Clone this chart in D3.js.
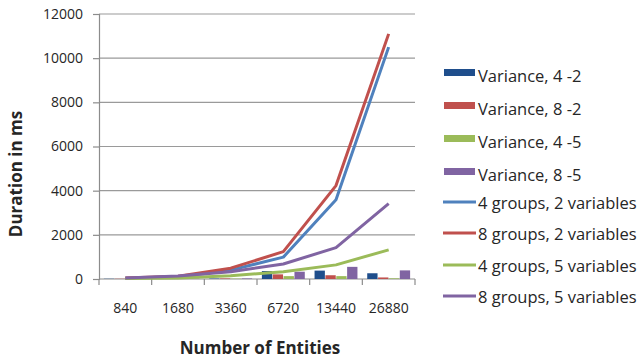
<!DOCTYPE html>
<html>
<head>
<meta charset="utf-8">
<script src="https://cdn.jsdelivr.net/npm/d3@7"></script>
<style>
  html, body { margin: 0; padding: 0; background: #fff; }
  svg { display: block; }
  text { font-family: "Open Sans", "Noto Sans", sans-serif; fill: #262626; }
</style>
</head>
<body>
<svg id="chart" width="638" height="359"></svg>
<script>
// Categories: number of entities
const categories = ["840", "1680", "3360", "6720", "13440", "26880"];

// Variance (bars), in ms
const variance42 = [10, 15, 20, 360, 380, 260];
const variance82 = [10, 15, 25, 210, 170, 70];
const variance45 = [5, 10, 15, 130, 130, 30];
const variance85 = [10, 15, 25, 330, 550, 390];

// Duration (lines), in ms
const g4v2 = [30, 100, 400, 990, 3590, 10500];
const g8v2 = [40, 130, 490, 1240, 4230, 11100];
const g4v5 = [20, 50, 150, 330, 640, 1320];
const g8v5 = [50, 140, 330, 680, 1420, 3410];

const yTicks = [0, 2000, 4000, 6000, 8000, 10000, 12000];

const barSeries = [
  { name: "Variance, 4 -2", values: variance42, color: "#1F4E8C" },
  { name: "Variance, 8 -2", values: variance82, color: "#C0504D" },
  { name: "Variance, 4 -5", values: variance45, color: "#9BBB59" },
  { name: "Variance, 8 -5", values: variance85, color: "#8064A2" }
];
const lineSeries = [
  { name: "4 groups, 2 variables", values: g4v2, color: "#4F81BD" },
  { name: "8 groups, 2 variables", values: g8v2, color: "#C0504D" },
  { name: "4 groups, 5 variables", values: g4v5, color: "#9BBB59" },
  { name: "8 groups, 5 variables", values: g8v5, color: "#8064A2" }
];

const svg = d3.select("#chart");
const plot = { left: 99, right: 415, top: 14, bottom: 279 };

const x = d3.scaleBand().domain(categories).range([plot.left, plot.right]).padding(0);
const xInner = d3.scaleBand().domain(d3.range(barSeries.length))
  .range([0, x.bandwidth()]).paddingInner(0.05).paddingOuter(0.45);
const y = d3.scaleLinear().domain([0, 12000]).range([plot.bottom, plot.top]);

// Horizontal gridlines
svg.append("g")
  .selectAll("line")
  .data(yTicks.filter(d => d > 0))
  .join("line")
  .attr("x1", plot.left).attr("x2", plot.right)
  .attr("y1", d => y(d)).attr("y2", d => y(d))
  .attr("stroke", "#9a9a9a").attr("stroke-width", 1.2);

// Y axis
const yAxis = svg.append("g")
  .attr("transform", `translate(${plot.left},0)`)
  .call(d3.axisLeft(y).tickValues(yTicks).tickSize(6).tickPadding(10).tickFormat(d3.format("d")));
yAxis.select(".domain").attr("stroke", "#8c8c8c").attr("stroke-width", 1.2);
yAxis.selectAll(".tick line").attr("stroke", "#8c8c8c").attr("stroke-width", 1.2);
yAxis.selectAll(".tick text")
  .attr("font-size", 14).attr("font-family", "Open Sans").attr("fill", "#2a2a2a");

// X axis with ticks at category boundaries
const xAxis = svg.append("g")
  .attr("transform", `translate(0,${plot.bottom})`);
xAxis.append("line")
  .attr("x1", plot.left).attr("x2", plot.right)
  .attr("stroke", "#8c8c8c").attr("stroke-width", 1.2);
xAxis.selectAll("line.tick")
  .data(categories.concat(["end"]))
  .join("line").attr("class", "tick")
  .attr("x1", (d, i) => i < categories.length ? x(d) : plot.right)
  .attr("x2", (d, i) => i < categories.length ? x(d) : plot.right)
  .attr("y1", 0).attr("y2", 6)
  .attr("stroke", "#8c8c8c").attr("stroke-width", 1.2);
xAxis.selectAll("text")
  .data(categories)
  .join("text")
  .attr("x", d => x(d) + x.bandwidth() / 2)
  .attr("y", 34)
  .attr("text-anchor", "middle")
  .attr("font-size", 14).attr("fill", "#2a2a2a")
  .text(d => d);

// Clustered variance bars
const barGroups = svg.append("g").selectAll("g")
  .data(barSeries)
  .join("g")
  .attr("fill", d => d.color);
barGroups.each(function (s, si) {
  d3.select(this).selectAll("rect")
    .data(s.values)
    .join("rect")
    .attr("x", (v, i) => x(categories[i]) + xInner(si))
    .attr("width", xInner.bandwidth())
    .attr("y", v => y(v))
    .attr("height", v => y(0) - y(v));
});

// Duration lines
const line = d3.line()
  .x((v, i) => x(categories[i]) + x.bandwidth() / 2)
  .y(v => y(v));
svg.append("g").selectAll("path")
  .data(lineSeries)
  .join("path")
  .attr("d", d => line(d.values))
  .attr("fill", "none")
  .attr("stroke", d => d.color)
  .attr("stroke-width", 3)
  .attr("stroke-linejoin", "round");

// Axis titles
svg.append("text")
  .attr("transform", "translate(22,174) rotate(-90)")
  .attr("text-anchor", "middle")
  .attr("font-size", 17).attr("font-weight", "bold").attr("fill", "#1a1a1a")
  .text("Duration in ms");
svg.append("text")
  .attr("x", 260).attr("y", 354)
  .attr("text-anchor", "middle")
  .attr("font-size", 17).attr("font-weight", "bold").attr("fill", "#1a1a1a")
  .text("Number of Entities");

// Legend
const legendItems = barSeries.map(d => ({ ...d, kind: "bar" }))
  .concat(lineSeries.map(d => ({ ...d, kind: "line" })));
const legendY = [73, 106, 139, 172, 202, 233, 265, 296];
const legend = svg.append("g").selectAll("g")
  .data(legendItems)
  .join("g")
  .attr("transform", (d, i) => `translate(443,${legendY[i]})`);
legend.filter(d => d.kind === "bar").append("rect")
  .attr("x", 1).attr("y", -4).attr("width", 31).attr("height", 7)
  .attr("fill", d => d.color);
legend.filter(d => d.kind === "line").append("line")
  .attr("x1", 0).attr("x2", 33).attr("y1", 0).attr("y2", 0)
  .attr("stroke", d => d.color).attr("stroke-width", 3);
legend.append("text")
  .attr("x", 35)
  .attr("y", d => d.kind === "bar" ? 9 : 7)
  .attr("font-size", 16.5).attr("fill", "#1a1a1a")
  .text(d => d.name);
</script>
</body>
</html>
